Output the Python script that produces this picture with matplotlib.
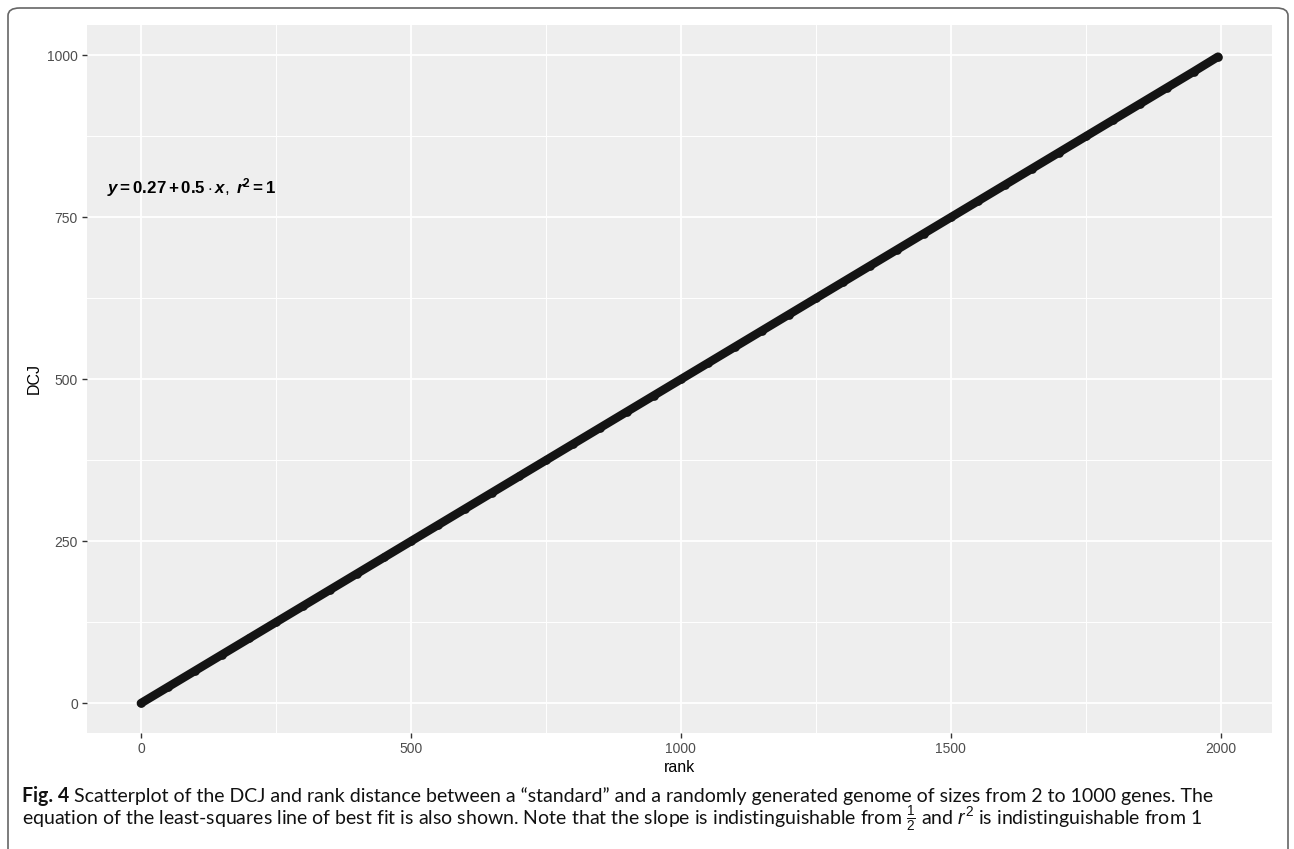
import matplotlib
matplotlib.use("Agg")
import matplotlib.pyplot as plt
from matplotlib.patches import FancyBboxPatch

# rank distance vs DCJ distance
rank = [0, 50, 100, 150, 200, 250, 300, 350, 400, 450, 500, 550, 600, 650,
        700, 750, 800, 850, 900, 950, 1000, 1050, 1100, 1150, 1200, 1250,
        1300, 1350, 1400, 1450, 1500, 1550, 1600, 1650, 1700, 1750, 1800,
        1850, 1900, 1950, 1995]
dcj = [0, 25, 50, 75, 100, 125, 150, 175, 200, 225, 250, 275, 300, 325,
       350, 375, 400, 425, 450, 475, 500, 525, 550, 575, 600, 625,
       650, 675, 700, 725, 750, 775, 800, 825, 850, 875, 900,
       925, 950, 975, 998]

x_ticks = [0, 500, 1000, 1500, 2000]
y_ticks = [0, 250, 500, 750, 1000]
fit_label = r"$\mathbfit{y} \mathbf{= 0.27 + 0.5} \cdot \mathbfit{x},\ \mathbfit{r}^{\mathbf{2}} \mathbf{= 1}$"

plt.rcParams["mathtext.fontset"] = "custom"
plt.rcParams["mathtext.rm"] = "Liberation Sans"
plt.rcParams["mathtext.it"] = "Liberation Sans:italic"
plt.rcParams["mathtext.bf"] = "Liberation Sans:bold"
plt.rcParams["mathtext.bfit"] = "Liberation Sans:italic:bold"

fig = plt.figure(figsize=(12.94, 8.49), dpi=100)
ax = fig.add_axes([0.0672, 0.1366, 0.9158, 0.834])

ax.set_facecolor("#EEEEEE")
for s in ax.spines.values():
    s.set_visible(False)

ax.plot(rank, dcj, color="#141414", lw=6.2, marker="o", ms=6.2, mew=0,
        solid_capstyle="round", zorder=3)

ax.set_xlim(-100, 2095)
ax.set_ylim(-46, 1047)
ax.set_xticks(x_ticks)
ax.set_yticks(y_ticks)
ax.set_xticks([250, 750, 1250, 1750], minor=True)
ax.set_yticks([125, 375, 625, 875], minor=True)
ax.grid(which="major", color="white", lw=1.3)
ax.grid(which="minor", color="white", lw=0.7)
ax.set_axisbelow(True)
ax.tick_params(which="major", length=3.5, width=1, color="#333333",
               labelcolor="#4D4D4D", labelsize=10, pad=3)
ax.tick_params(which="minor", length=0)
for lab in ax.get_xticklabels() + ax.get_yticklabels():
    lab.set_fontfamily("Liberation Sans")

ax.set_xlabel("rank", fontsize=11.5, family="Liberation Sans", labelpad=3)
ax.set_ylabel("DCJ", fontsize=11.5, family="Liberation Sans", labelpad=4)

ax.text(-62, 796, fit_label, fontsize=12.2, va="center", ha="left")

# caption
cap_font = dict(family="Lato", fontsize=14.05, color="#111111")
t = fig.text(22 / 1294, 1 - 802 / 849, "Fig. 4", fontweight="bold", va="baseline", **cap_font)
fig.canvas.draw()
bb = t.get_window_extent()
fig.text((bb.x1 + 5) / 1294, 1 - 802 / 849,
         "Scatterplot of the DCJ and rank distance between a \u201cstandard\u201d and a randomly "
         "generated genome of sizes from 2 to 1000 genes. The",
         va="baseline", **cap_font)
fig.text(22 / 1294, 1 - 825 / 849,
         "equation of the least-squares line of best fit is also shown. Note that the slope is "
         "indistinguishable from $\\frac{1}{2}$ and $r^2$ is indistinguishable from 1",
         va="baseline", **cap_font)

# outer frame
frame = FancyBboxPatch((8 / 1294, -0.05), 1280 / 1294, 1 - 8 / 849 + 0.05,
                       boxstyle="round,pad=0,rounding_size=0.009",
                       transform=fig.transFigure, fill=False,
                       edgecolor="#666666", lw=1.2)
fig.patches.append(frame)

fig.savefig("out.png", dpi=100)
